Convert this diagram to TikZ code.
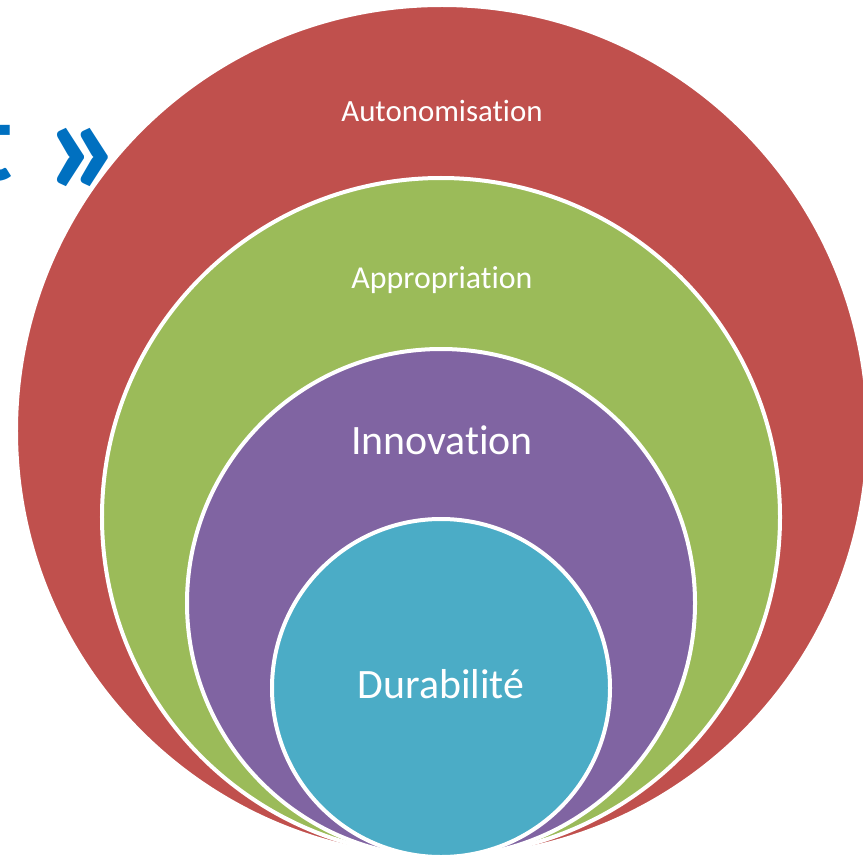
\documentclass[tikz,border=0pt]{standalone}
\usepackage{fontspec}
\setmainfont[Ligatures=NoCommon]{Carlito}
\usetikzlibrary{shapes,positioning}
\definecolor{ringred}{HTML}{C0504D}
\definecolor{ringgreen}{HTML}{9BBB59}
\definecolor{ringpurple}{HTML}{8064A2}
\definecolor{ringblue}{HTML}{4BACC6}
\definecolor{titleblue}{HTML}{0070C0}
\tikzstyle{ring} = [circle, draw=white, line width=4bp, inner sep=0pt]
\tikzstyle{ringtext} = [text=white, inner sep=0pt, anchor=base]
\tikzstyle{headline} = [text=titleblue, inner sep=0pt, anchor=base east]

\begin{document}
\begin{tikzpicture}[x=1bp, y=-1bp]
    \useasboundingbox (0,0) rectangle (863,856);
    % Place rings
    \node [ring, fill=ringred, minimum size=852bp] (autonomy) at (442,431) {};
    \node [ring, fill=ringgreen, minimum size=678bp] (appropriation) at (441,517) {};
    \node [ring, fill=ringpurple, minimum size=508bp] (innovation) at (441,603) {};
    \node [ring, fill=ringblue, minimum size=338bp] (durability) at (441,688) {};
    % Place texts
    \node [ringtext, font=\fontsize{31}{36}\selectfont] (autonomy-text) at (442,121) {Autonomisation};
    \node [ringtext, font=\fontsize{32}{38}\selectfont] (appropriation-text) at (442,288) {Appropriation};
    \node [ringtext, font=\fontsize{42}{48}\selectfont] (innovation-text) at (442,454) {Innovation};
    \node [ringtext, font=\fontsize{42}{48}\selectfont] (durability-text) at (441,698) {Durabilité};
    % title remnant
    \node [headline, font=\bfseries\fontsize{115}{120}\selectfont] (title-end) at (13,180) {t};
    \node [headline, font=\bfseries\fontsize{150}{160}\selectfont] (title-quote) at (125,195) {»};
\end{tikzpicture}
\end{document}
